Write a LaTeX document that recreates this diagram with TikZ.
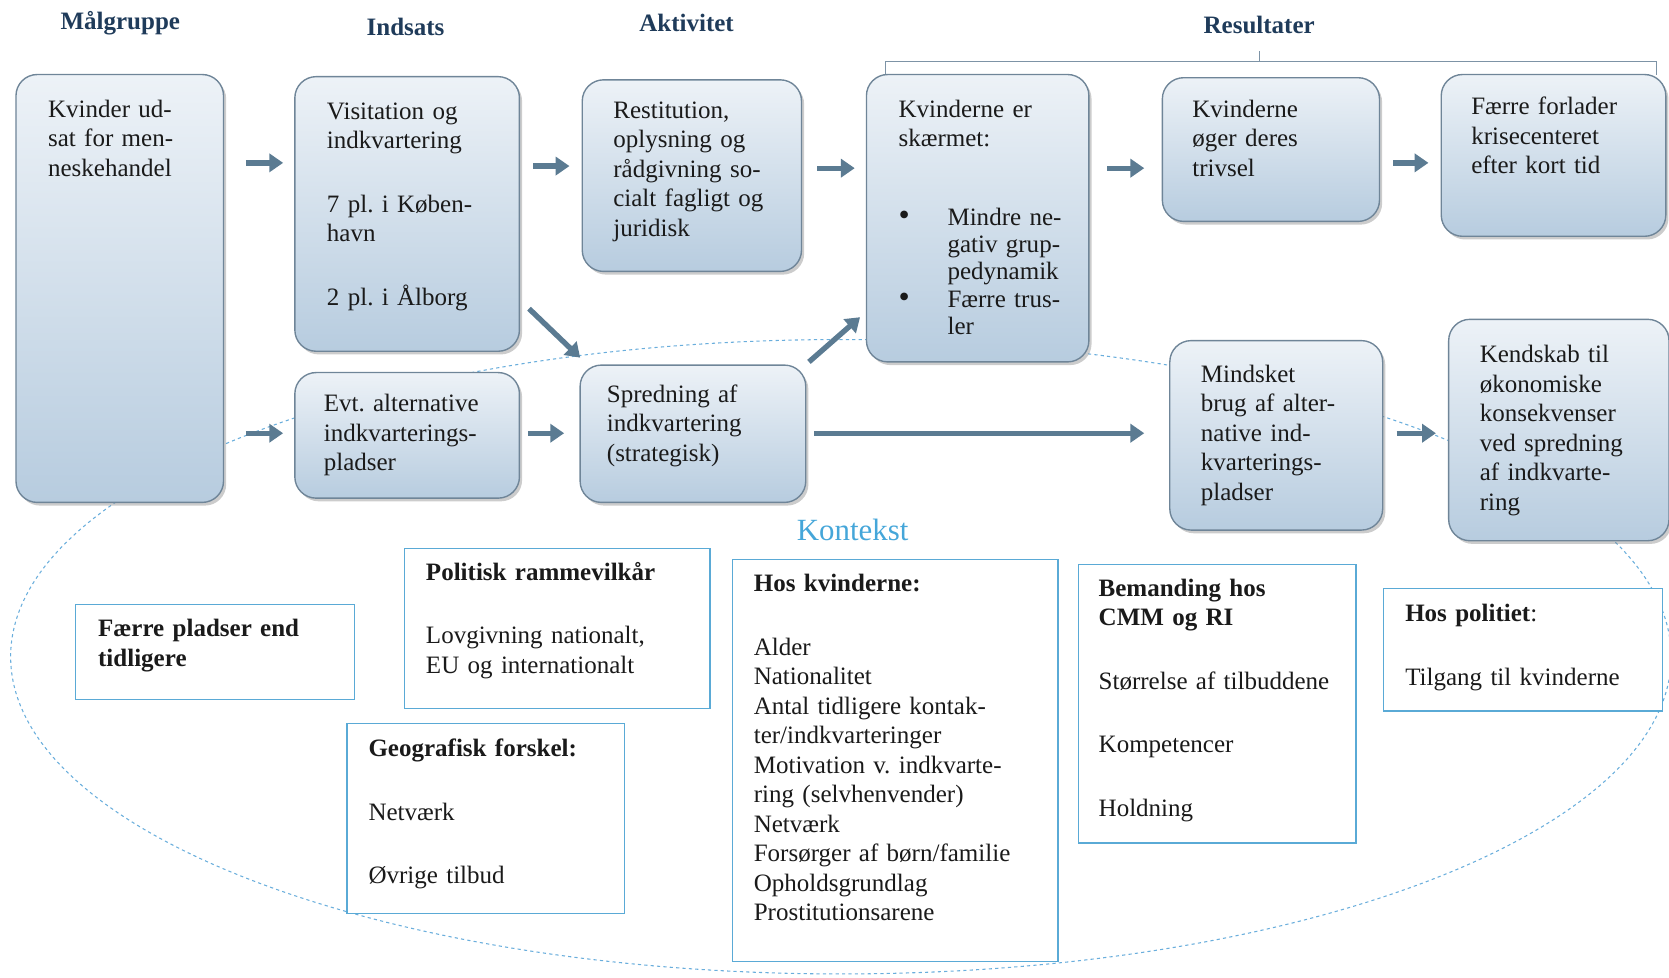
\documentclass[tikz,border=0pt]{standalone}
\usepackage{fontspec}
\setmainfont{Liberation Serif}
\usepackage{tikz}
\usetikzlibrary{calc,arrows.meta,shadows}
\definecolor{boxtop}{HTML}{EDF2F7}
\definecolor{boxbot}{HTML}{B7CCDF}
\definecolor{boxline}{HTML}{6F8598}
\definecolor{flowc}{HTML}{5B7B92}
\definecolor{ctxline}{HTML}{5AAAD6}
\definecolor{ctxdash}{HTML}{6AAEDC}
\definecolor{head}{HTML}{1F3B5A}
\definecolor{ktx}{HTML}{45A6D9}
\definecolor{brack}{HTML}{7D93A6}
\definecolor{ink}{HTML}{1A1A1A}
\frenchspacing
\tikzset{
  res/.style={draw=boxline, line width=1.3pt, rounded corners=20pt, top color=boxtop, bottom color=boxbot,
    anchor=north west, outer sep=0pt, drop shadow={shadow xshift=2.5pt, shadow yshift=-3pt, opacity=0.4, fill=black!50}},
  ctx/.style={draw=ctxline, line width=1.1pt, fill=white, anchor=north west, outer sep=0pt},
  txt/.style={anchor=base west, align=left, inner sep=0pt, text width=300pt, text=ink, font=\fontsize{23.5}{27.7}\selectfont},
  ttl/.style={text=head, font=\fontsize{23.5}{27}\selectfont\bfseries},
  flow/.style={draw=flowc, line width=5pt, -{Triangle[width=17pt,length=13pt]}, shorten <=13pt, shorten >=12pt},
  ring/.style={draw=ctxdash, line width=1pt, dash pattern=on 3pt off 3pt},
  brack/.style={draw=brack, line width=1.2pt},
}
\begin{document}
\begin{tikzpicture}[x=1pt, y=-1pt]
\useasboundingbox (0,0) rectangle (1568,918);
% context ring behind everything
\draw[ring] (790,617) ellipse [x radius=780pt, y radius=298pt];
\node[text=ktx, font=\fontsize{29}{32}\selectfont] (kontekst) at (801,498) {Kontekst};

% headings
\node[ttl] (t-mal) at (113,22) {Målgruppe};
\node[ttl] (t-ind) at (381,25) {Indsats};
\node[ttl] (t-akt) at (645,22) {Aktivitet};
\node[ttl] (t-res) at (1183,23) {Resultater};
\draw[brack] (832,70) -- (832,58) -- (1556,58) -- (1556,70);
\draw[brack] (1183,58) -- (1183,48);

% result chain boxes
\node[res, minimum width=195pt, minimum height=402pt] (mal) at (15,70) {};
\node[res, minimum width=211pt, minimum height=258pt] (vis) at (277,72) {};
\node[res, minimum width=211pt, minimum height=118pt] (evt) at (277,350) {};
\node[res, minimum width=206pt, minimum height=180pt] (rest) at (547,75) {};
\node[res, minimum width=212pt, minimum height=129pt] (spr) at (545,343) {};
\node[res, minimum width=209pt, minimum height=270pt] (skaerm) at (814,70) {};
\node[res, minimum width=204pt, minimum height=135pt] (trivsel) at (1092,73) {};
\node[res, minimum width=211pt, minimum height=152pt] (faerre) at (1354,70) {};
\node[res, minimum width=200pt, minimum height=178pt] (mindsket) at (1099,320) {};
\node[res, minimum width=207pt, minimum height=208pt] (kendskab) at (1361,300) {};

\node[txt] (mal-t) at (45,110) {Kvinder ud-\\sat for men-\\neskehandel};
\node[txt] (vis-t) at (307,112) {Visitation og\\indkvartering\\[32pt]7 pl. i Køben-\\havn\\[32pt]2 pl. i Ålborg};
\node[txt] (evt-t) at (304,387) {Evt. alternative\\indkvarterings-\\pladser};
\node[txt] (rest-t) at (576,111) {Restitution,\\oplysning og\\rådgivning so-\\cialt fagligt og\\juridisk};
\node[txt] (spr-t) at (570,378) {Spredning af\\indkvartering\\(strategisk)};
\node[txt] (skaerm-t) at (844,110) {Kvinderne er\\skærmet:};
\node[txt, font=\fontsize{23.5}{25.5}\selectfont] (skaerm-b) at (844,212)
  {\makebox[46pt][l]{\fontsize{30}{30}\selectfont\textbullet}Mindre ne-\\\hspace*{46pt}gativ grup-\\\hspace*{46pt}pedynamik\\
   \makebox[46pt][l]{\fontsize{30}{30}\selectfont\textbullet}Færre trus-\\\hspace*{46pt}ler};
\node[txt] (trivsel-t) at (1120,110) {Kvinderne\\øger deres\\trivsel};
\node[txt] (faerre-t) at (1382,108) {Færre forlader\\krisecenteret\\efter kort tid};
\node[txt] (mindsket-t) at (1128,359) {Mindsket\\brug af alter-\\native ind-\\kvarterings-\\pladser};
\node[txt] (kendskab-t) at (1390,341) {Kendskab til\\økonomiske\\konsekvenser\\ved spredning\\af indkvarte-\\ring};

% arrows
\coordinate (ya) at (0,153);
\coordinate (yb) at (0,156);
\coordinate (yc) at (0,158);
\coordinate (yd) at (0,407);
\draw[flow, shorten <=21pt, shorten >=11pt] (mal.east |- ya) -- (vis.west |- ya);
\draw[flow, shorten <=21pt, shorten >=11pt] (mal.east |- yd) -- (evt.west |- yd);
\draw[flow] (vis.east |- yb) -- (rest.west |- yb);
\draw[flow, shorten <=8pt, shorten >=15pt] (evt.east |- yd) -- (spr.west |- yd);
\draw[flow, shorten <=15pt, shorten >=11pt] (rest.east |- yc) -- (skaerm.west |- yc);
\draw[flow, shorten <=17pt, shorten >=17pt] (skaerm.east |- yc) -- (trivsel.west |- yc);
\draw[flow] (trivsel.east |- ya) -- (faerre.west |- ya);
\draw[flow, shorten <=8pt, shorten >=24pt] (spr.east |- yd) -- (mindsket.west |- yd);
\draw[flow] (mindsket.east |- yd) -- (kendskab.west |- yd);
\draw[flow, shorten <=0pt, shorten >=0pt] ($(vis.south east)+(9,-40)$) -- ($(spr.north west)+(0,-7)$);
\draw[flow, shorten <=0pt, shorten >=0pt] ($(spr.north east)+(3,-3)$) -- ($(skaerm.south west)+(-6,-42)$);

% context boxes
\node[ctx, minimum width=262pt, minimum height=89pt] (faer-pl) at (71,568) {};
\node[ctx, minimum width=287pt, minimum height=151pt] (politisk) at (380,515) {};
\node[ctx, minimum width=261pt, minimum height=178pt] (geo) at (326,680) {};
\node[ctx, minimum width=306pt, minimum height=377pt] (hoskv) at (688,526) {};
\node[ctx, minimum width=261pt, minimum height=262pt] (beman) at (1013,530) {};
\node[ctx, minimum width=262pt, minimum height=115pt] (politi) at (1300,553) {};

\node[txt] (faer-pl-t) at (92,598) {\textbf{Færre pladser end}\\\textbf{tidligere}};
\node[txt] (politisk-t) at (400,545) {\textbf{Politisk rammevilkår}\\[32pt]Lovgivning nationalt,\\EU og internationalt};
\node[txt] (geo-t) at (346,711) {\textbf{Geografisk forskel:}\\[32pt]Netværk\\[32pt]Øvrige tilbud};
\node[txt] (hoskv-t) at (708,556) {\textbf{Hos kvinderne:}\\[32pt]Alder\\Nationalitet\\Antal tidligere kontak-\\ter/indkvarteringer\\Motivation v. indkvarte-\\ring (selvhenvender)\\Netværk\\Forsørger af børn/familie\\Opholdsgrundlag\\Prostitutionsarene};
\node[txt] (beman-t) at (1032,560) {\textbf{Bemanding hos}\\\textbf{CMM og RI}\\[32pt]Størrelse af tilbuddene\\[32pt]Kompetencer\\[32pt]Holdning};
\node[txt] (politi-t) at (1320,584) {\textbf{Hos politiet}:\\[32pt]Tilgang til kvinderne};
\end{tikzpicture}
\end{document}
